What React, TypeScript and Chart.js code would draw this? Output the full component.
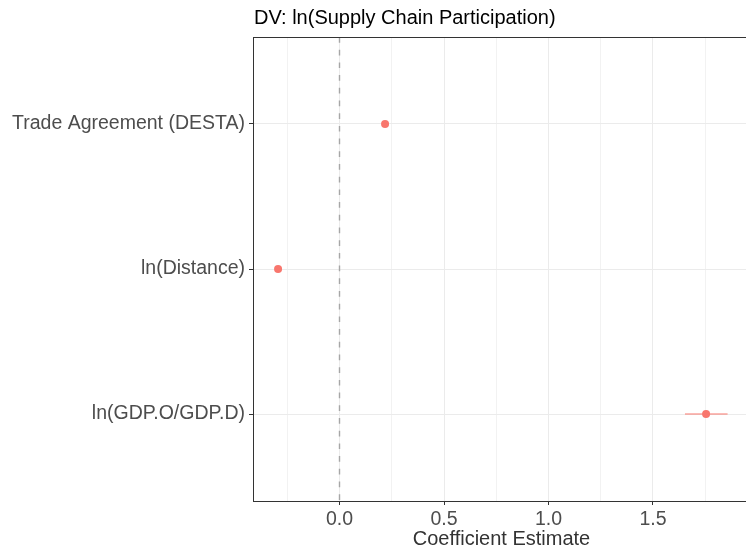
import React, { useEffect, useRef } from "react";
import { Chart, registerables } from "chart.js";

Chart.register(...registerables);

const terms = ["Trade Agreement (DESTA)", "ln(Distance)", "ln(GDP.O/GDP.D)"];
const estimates = [0.218, -0.294, 1.754];
const lower = [0.206, -0.306, 1.653];
const upper = [0.23, -0.282, 1.857];
const xGrid = [-0.25, 0, 0.25, 0.5, 0.75, 1, 1.25, 1.5, 1.75];
const xMajor = [0, 0.5, 1, 1.5];
const xMin = -0.4139;
const xMax = 1.945;
const titleText = "DV: ln(Supply Chain Participation)";
const xTitleText = "Coefficient Estimate";

const FONT = "'Liberation Sans', Arial, Helvetica, sans-serif";
const POINT_COLOR = "#F8766D";

const isMajor = (v: number) => xMajor.some((m) => Math.abs(m - v) < 1e-9);

export default function App() {
  const ref = useRef<HTMLCanvasElement | null>(null);

  useEffect(() => {
    if (!ref.current) return;
    const decor = {
      id: "decor",
      beforeDatasetsDraw(chart: any) {
        const { ctx, chartArea, scales } = chart;
        const xs = scales.x;
        const ys = scales.y;
        ctx.save();
        // zero reference line
        const x0 = xs.getPixelForValue(0);
        ctx.strokeStyle = "#A6A6A6";
        ctx.lineWidth = 1.4;
        ctx.setLineDash([5.7, 7]);
        ctx.beginPath();
        ctx.moveTo(x0, chartArea.top);
        ctx.lineTo(x0, chartArea.bottom);
        ctx.stroke();
        ctx.setLineDash([]);
        // error bars
        ctx.strokeStyle = POINT_COLOR;
        ctx.lineWidth = 1;
        terms.forEach((_, i) => {
          const y = ys.getPixelForValue(i);
          ctx.beginPath();
          ctx.moveTo(xs.getPixelForValue(lower[i]), y);
          ctx.lineTo(xs.getPixelForValue(upper[i]), y);
          ctx.stroke();
        });
        ctx.restore();
      },
      afterDraw(chart: any) {
        const { ctx, chartArea } = chart;
        ctx.save();
        ctx.strokeStyle = "#333333";
        ctx.lineWidth = 1;
        ctx.beginPath();
        ctx.moveTo(chartArea.left, Math.round(chartArea.top) + 0.5);
        ctx.lineTo(chartArea.right, Math.round(chartArea.top) + 0.5);
        ctx.stroke();
        ctx.fillStyle = "#000000";
        ctx.font = `20px ${FONT}`;
        ctx.textAlign = "left";
        ctx.textBaseline = "alphabetic";
        ctx.fillText(titleText, chartArea.left + 1, 24);
        ctx.fillStyle = "#333333";
        ctx.textAlign = "center";
        ctx.fillText(xTitleText, 501.5, 545);
        ctx.restore();
      },
    };

    const chart = new Chart(ref.current, {
      type: "scatter",
      data: {
        datasets: [
          {
            data: terms.map((_, i) => ({ x: estimates[i], y: i })),
            backgroundColor: POINT_COLOR,
            borderWidth: 0,
            pointRadius: 4,
            pointHoverRadius: 4,
          },
        ],
      },
      options: {
        animation: false,
        responsive: false,
        maintainAspectRatio: false,
        layout: { autoPadding: false, padding: { top: 37, left: 0, right: 0, bottom: 0 } },
        plugins: {
          legend: { display: false },
          tooltip: { enabled: false },
          title: { display: false },
        },
        scales: {
          x: {
            type: "linear",
            min: xMin,
            max: xMax,
            afterBuildTicks(scale: any) {
              scale.ticks = xGrid.map((v) => ({ value: v }));
            },
            afterFit(scale: any) {
              scale.height = 48;
            },
            ticks: {
              autoSkip: false,
              maxRotation: 0,
              padding: 3,
              color: "#4D4D4D",
              font: { family: FONT, size: 19.5 },
              callback: (v: any) => (isMajor(Number(v)) ? Number(v).toFixed(1) : ""),
            },
            grid: {
              color: (c: any) => (isMajor(c.tick?.value) ? "#EBEBEB" : "#F2F2F2"),
              lineWidth: 1,
              tickLength: 4,
              tickColor: (c: any) => (isMajor(c.tick?.value) ? "#333333" : "rgba(0,0,0,0)"),
              tickWidth: 1,
            },
            border: { display: true, color: "#333333", width: 1 },
          },
          y: {
            type: "linear",
            min: -0.6,
            max: 2.6,
            reverse: true,
            afterBuildTicks(scale: any) {
              scale.ticks = terms.map((_, i) => ({ value: i }));
            },
            afterFit(scale: any) {
              scale.width = 253;
            },
            ticks: {
              autoSkip: false,
              padding: 4,
              color: "#4D4D4D",
              font: { family: FONT, size: 19.5 },
              callback: (v: any) => terms[Number(v)] ?? "",
            },
            grid: {
              color: "#EBEBEB",
              lineWidth: 1,
              tickLength: 4,
              tickColor: "#333333",
              tickWidth: 1,
            },
            border: { display: true, color: "#333333", width: 1 },
          },
        },
      },
      plugins: [decor],
    });
    return () => chart.destroy();
  }, []);

  return (
    <div style={{ position: "absolute", left: 0, top: 0, width: 746, height: 549, background: "#fff" }}>
      <canvas ref={ref} width={746} height={549} style={{ display: "block" }} />
    </div>
  );
}
